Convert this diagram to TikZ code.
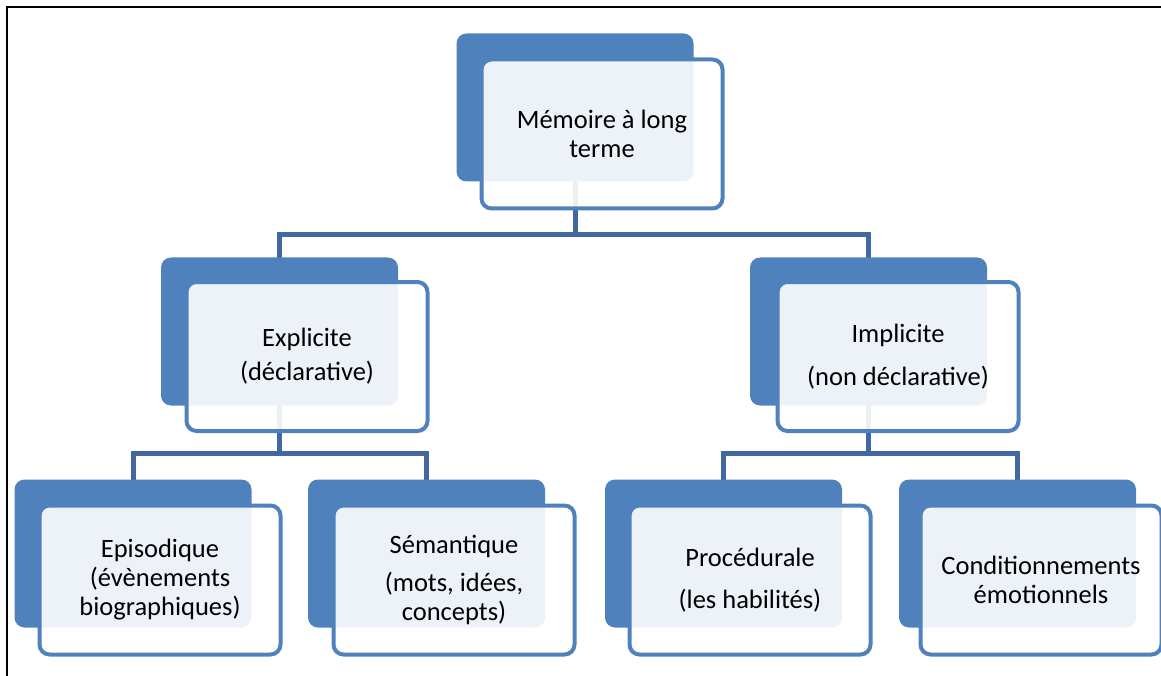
\documentclass[tikz,border=0pt]{standalone}
\usepackage{fontspec}
\setmainfont{Carlito}
\usetikzlibrary{backgrounds}
\definecolor{boxblue}{HTML}{4F81BD}
\definecolor{linkblue}{HTML}{41699F}
\begin{document}
\begin{tikzpicture}[x=1pt,y=-1pt,
  back/.style={rectangle,rounded corners=10pt,fill=boxblue,
    minimum width=237pt,minimum height=148pt,inner sep=0pt},
  front/.style={rectangle,rounded corners=10pt,draw=boxblue,line width=4pt,
    fill=white,fill opacity=0.9,text opacity=1,inner sep=0pt,
    minimum width=241pt,minimum height=149pt,align=center,
    font=\fontsize{26.5}{29}\selectfont},
  link/.style={draw=linkblue,line width=5pt}]
  \useasboundingbox (0,0) rectangle (1161,676);
  \draw[line width=2pt] (7,700) -- (7,7) -- (1200,7);

  % top
  \node[back] (memb) at (575,107.5) {};
  \node[front] (mem) at (602,134) {Mémoire à long\\terme};

  % second row
  \node[back] (expb) at (279.5,331.5) {};
  \node[front] (exp) at (307,356.5) {Explicite\\[5pt](déclarative)};
  \node[back] (impb) at (868.5,331.5) {};
  \node[front] (imp) at (898,356.5) {Implicite\\[14pt](non déclarative)};

  % third row
  \node[back] (epib) at (133,553.5) {};
  \node[front] (epi) at (160,580) {Episodique\\(évènements\\biographiques)};
  \node[back] (semb) at (426.5,553.5) {};
  \node[front] (sem) at (454,580) {Sémantique\\[9pt](mots, idées,\\concepts)};
  \node[back] (prob) at (723.5,553.5) {};
  \node[front] (pro) at (750,580) {Procédurale\\[13pt](les habilités)};
  \node[back] (conb) at (1017.5,553.5) {};
  \node[front] (con) at (1041,580) {Conditionnements\\émotionnels};

  \coordinate (j0) at (575,235);
  \coordinate (j1) at (279.5,453);
  \coordinate (j2) at (868.5,453);

  \begin{scope}[on background layer]
    \draw[link] (memb.center) -- (j0);
    \draw[link] (expb.center) |- (j0) -| (impb.center);
    \draw[link] (expb.center) -- (j1);
    \draw[link] (epib.center) |- (j1) -| (semb.center);
    \draw[link] (impb.center) -- (j2);
    \draw[link] (prob.center) |- (j2) -| (conb.center);
  \end{scope}
\end{tikzpicture}
\end{document}
